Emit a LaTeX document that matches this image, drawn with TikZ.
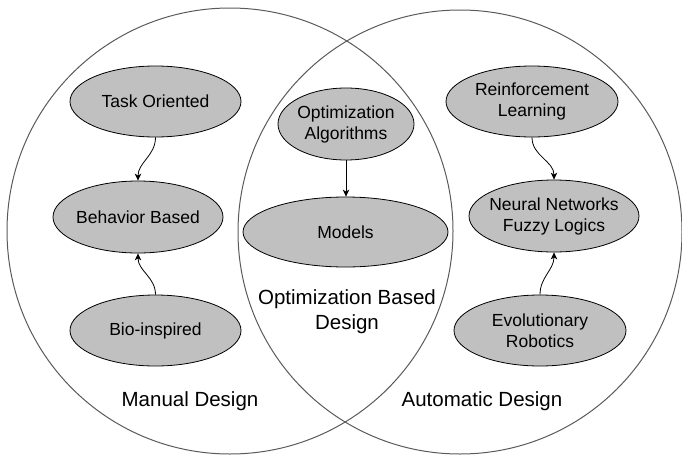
\documentclass[tikz,border=0pt]{standalone}
\usepackage{fontspec}
\setmainfont{Liberation Sans}
\usetikzlibrary{shapes.geometric,arrows.meta}
\definecolor{ellfill}{RGB}{192,192,192}
\definecolor{circline}{RGB}{90,90,90}
\tikzset{
  bigcirc/.style={draw=circline,line width=1pt},
  ell/.style={ellipse,draw=black,fill=ellfill,line width=0.8pt,inner sep=0pt},
  etext/.style={align=center,inner sep=0pt,font=\fontsize{17.5}{21}\selectfont},
  region/.style={align=center,inner sep=0pt,font=\fontsize{20.5}{25}\selectfont},
  arr/.style={-{Stealth[length=7pt,width=6.5pt,inset=2pt]},line width=0.8pt}
}
\begin{document}
\begin{tikzpicture}[x=1pt,y=-1pt]
\useasboundingbox (0,0) rectangle (682,458);
\draw[bigcirc] (230,231) circle[radius=223];
\draw[bigcirc] (460,232) circle[radius=222];

\node[ell,minimum width=171pt,minimum height=71pt] (to) at (155.5,101.5) {};
\node[etext] at (to) {Task Oriented};
\node[ell,minimum width=170pt,minimum height=72pt] (bb) at (138,217) {};
\node[etext] at (bb) {Behavior Based};
\node[ell,minimum width=171pt,minimum height=71pt] (bi) at (155.5,330.5) {};
\node[etext] at (bi) {Bio-inspired};

\node[ell,minimum width=136pt,minimum height=72pt] (oa) at (346,124) {};
\node[etext] at (oa) {Optimization\\Algorithms};
\node[ell,minimum width=205pt,minimum height=70pt] (mo) at (345.5,232) {};
\node[etext] at (mo) {Models};

\node[ell,minimum width=172pt,minimum height=71pt] (rl) at (532,101.5) {};
\node[etext] at (rl) {Reinforcement\\Learning};
\node[ell,minimum width=170pt,minimum height=72pt] (nn) at (554,216) {};
\node[etext] at (nn) {Neural Networks\\Fuzzy Logics};
\node[ell,minimum width=172pt,minimum height=71pt] (er) at (540,330.5) {};
\node[etext] at (er) {Evolutionary\\Robotics};

\draw[arr] (to.south) to[out=-90,in=90] (bb.north);
\draw[arr] (bi.north) to[out=90,in=-90] (bb.south);
\draw[arr] (oa.south) -- (oa.south |- mo.north);
\draw[arr] (rl.south) to[out=-90,in=90] (nn.north);
\draw[arr] (er.north) to[out=90,in=-90] (nn.south);

\node[region,anchor=base] (md) at (190,406) {Manual Design};
\node[region,anchor=base] (ad) at (482,406) {Automatic Design};
\node[region] (ob) at (347,311.5) {Optimization Based\\Design};
\end{tikzpicture}
\end{document}
